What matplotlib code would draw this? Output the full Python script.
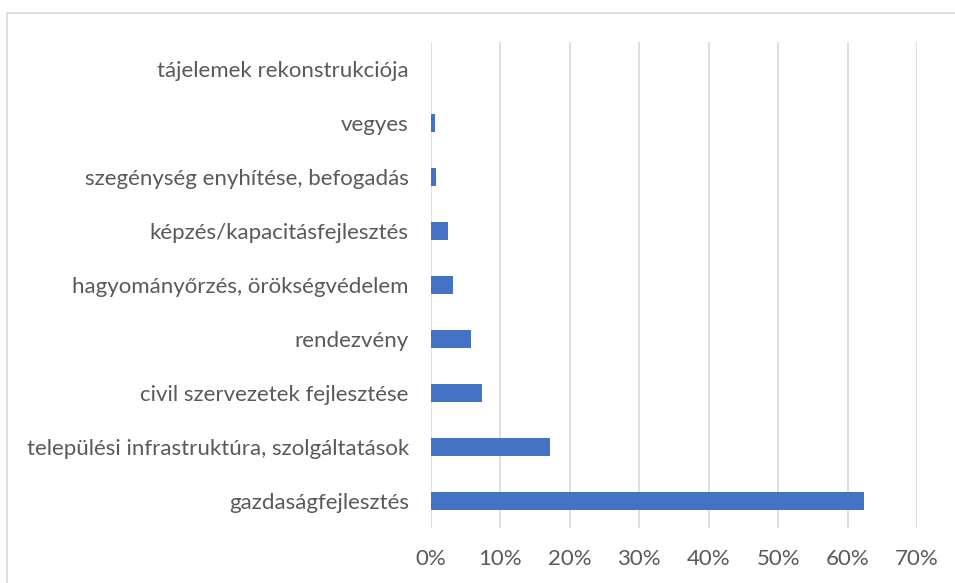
import matplotlib.pyplot as plt
from matplotlib.patches import Rectangle
from matplotlib.ticker import PercentFormatter

categories = [
    "gazdaságfejlesztés",
    "települési infrastruktúra, szolgáltatások",
    "civil szervezetek fejlesztése",
    "rendezvény",
    "hagyományőrzés, örökségvédelem",
    "képzés/kapacitásfejlesztés",
    "szegénység enyhítése, befogadás",
    "vegyes",
    "tájelemek rekonstrukciója",
]
shares = [62.4, 17.1, 7.4, 5.7, 3.2, 2.5, 0.7, 0.6, 0.0]
xticks = [0, 10, 20, 30, 40, 50, 60, 70]

W, H = 955, 583
fig = plt.figure(figsize=(W / 100, H / 100), dpi=100)
plt.rcParams['font.family'] = ['Lato', 'DejaVu Sans']

# outer chart frame (Excel style)
fig.patches.append(Rectangle((7 / W, -0.1), 1.2, (H - 13) / H + 0.1,
                             transform=fig.transFigure, fill=False,
                             edgecolor='#d9d9d9', linewidth=1.2))

ax = fig.add_axes([431 / W, (H - 528) / H, (917 - 431) / W, (528 - 42) / H])
ax.barh(range(len(categories)), shares, height=0.35, color='#4472c4', zorder=3)

ax.set_xlim(0, 70)
ax.set_ylim(-0.5, len(categories) - 0.5)
ax.set_xticks(xticks)
ax.xaxis.set_major_formatter(PercentFormatter(decimals=0))
ax.set_yticks(range(len(categories)))
ax.set_yticklabels(categories)
ax.grid(axis='x', color='#d9d9d9', linewidth=1.2, zorder=0)
for s in ax.spines.values():
    s.set_visible(False)
ax.tick_params(axis='both', length=0, labelsize=16, colors='#595959')
ax.tick_params(axis='y', pad=16)
ax.tick_params(axis='x', pad=15)

fig.savefig('out.png', dpi=100)
